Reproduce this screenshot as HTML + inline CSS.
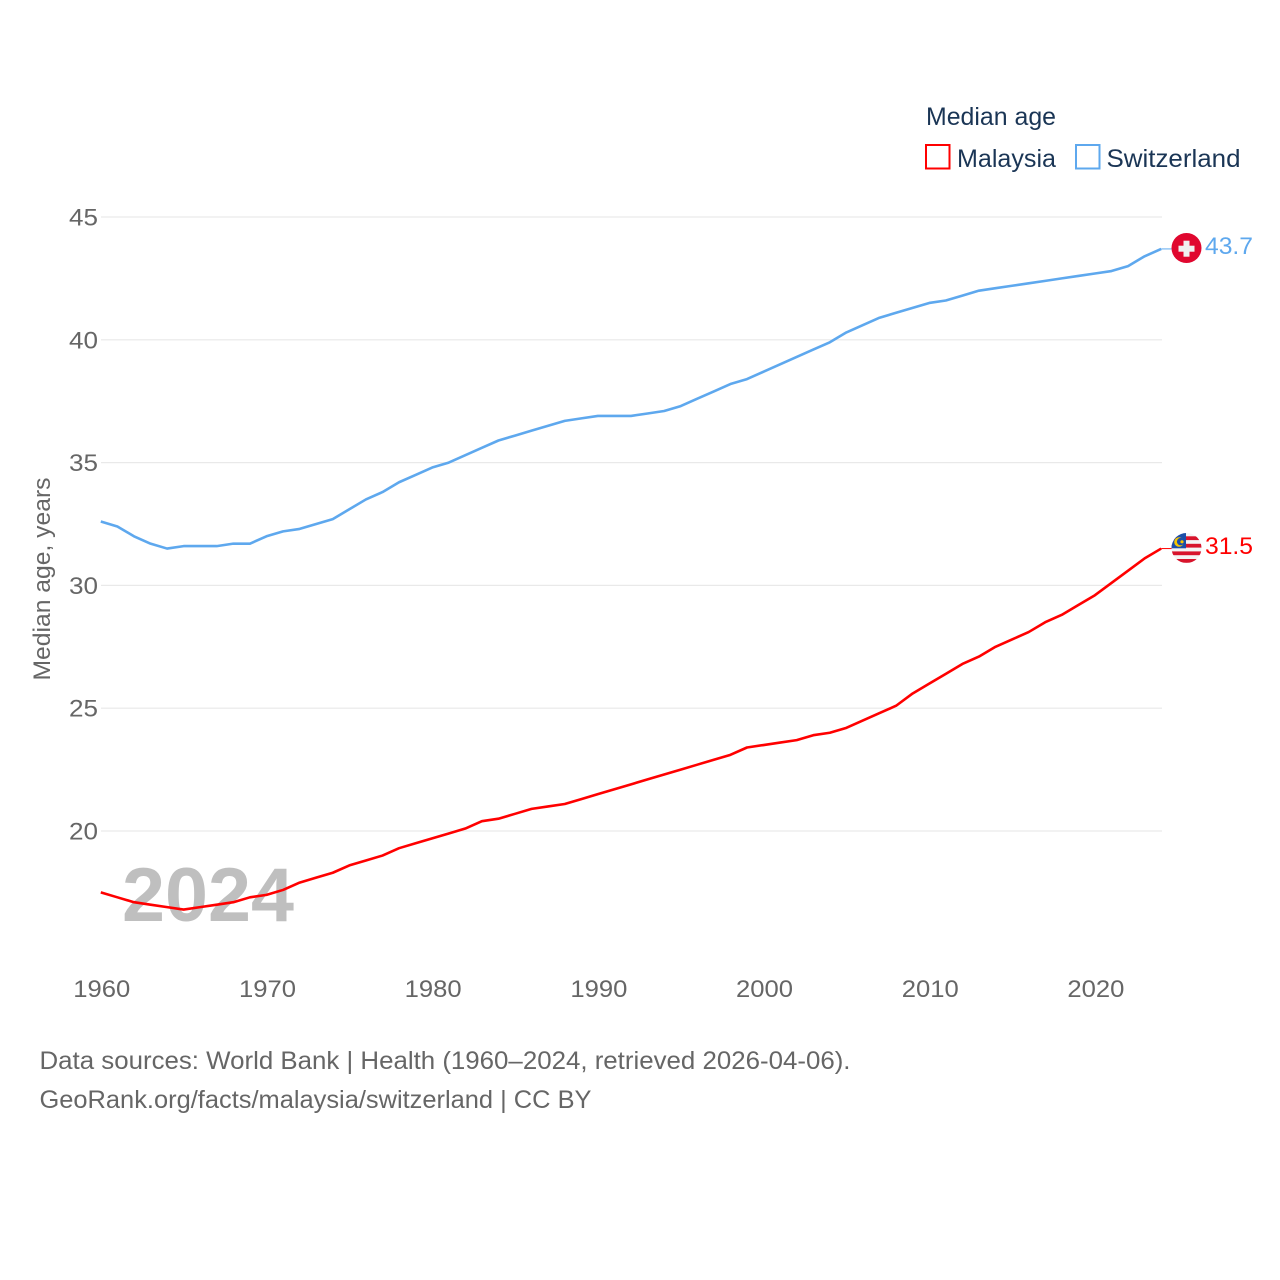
<!DOCTYPE html>
<html lang="en">
<head>
<meta charset="utf-8">
<title>Median age: Malaysia and Switzerland</title>
<style>
html,body{margin:0;padding:0;background:#fff;}
svg{display:block;font-family:"Liberation Sans",sans-serif;}
</style>
</head>
<body>
<svg id="chart" xmlns="http://www.w3.org/2000/svg" width="1280" height="1280" viewBox="0 0 1280 1280">
  <defs>
    <clipPath id="my-clip"><circle cx="1186.5" cy="548" r="15"/></clipPath>
  </defs>
  <rect x="0" y="0" width="1280" height="1280" fill="#fff"/>

  <g id="grid"></g>
  <g id="ytick-labels"></g>
  <g id="xtick-labels"></g>

  <text transform="translate(50,579) rotate(-90)" text-anchor="middle" font-size="24" fill="#666" textLength="203" lengthAdjust="spacingAndGlyphs">Median age, years</text>

  <text x="122" y="921" font-size="76" font-weight="700" fill="#bfbfbf" textLength="172" lengthAdjust="spacingAndGlyphs">2024</text>

  <g id="series"></g>

  <g>
    <circle cx="1186.5" cy="248" r="15" fill="#e0072f"/>
    <rect x="1183.5" y="240.7" width="6" height="16" fill="#f0f0f0"/>
    <rect x="1178.5" y="245.7" width="16" height="6" fill="#f0f0f0"/>
  </g>
  <g clip-path="url(#my-clip)">
    <rect x="1171" y="533" width="31" height="31" fill="#f4f4f4"/>
    <rect x="1171" y="536.3" width="31" height="3.8" fill="#d8142c"/>
    <rect x="1171" y="543.8" width="31" height="3.8" fill="#d8142c"/>
    <rect x="1171" y="551.4" width="31" height="3.8" fill="#d8142c"/>
    <rect x="1171" y="559" width="31" height="3.8" fill="#d8142c"/>
    <rect x="1171" y="533" width="15" height="15.3" fill="#1c4fa8"/>
    <circle cx="1179" cy="542" r="4.8" fill="#f7c600"/>
    <circle cx="1180.6" cy="541.6" r="3.7" fill="#1c4fa8"/>
    <circle cx="1182" cy="541.8" r="1.6" fill="#f7c600"/>
  </g>

  <text x="1205" y="254" font-size="24" fill="#5ea8ee" textLength="48" lengthAdjust="spacingAndGlyphs">43.7</text>
  <text x="1205" y="554" font-size="24" fill="#ff0000" textLength="48" lengthAdjust="spacingAndGlyphs">31.5</text>

  <g>
    <text x="926" y="125" font-size="25" fill="#1a3555" textLength="130" lengthAdjust="spacingAndGlyphs">Median age</text>
    <g>
      <rect x="926" y="145" width="23.5" height="23.5" fill="#fff" stroke="#ff0000" stroke-width="2"/>
      <text x="957" y="167" font-size="25" fill="#1a3555" textLength="99" lengthAdjust="spacingAndGlyphs">Malaysia</text>
    </g>
    <g>
      <rect x="1076" y="145" width="23.5" height="23.5" fill="#fff" stroke="#5ea8ee" stroke-width="2"/>
      <text x="1106.5" y="167" font-size="25" fill="#1a3555" textLength="134" lengthAdjust="spacingAndGlyphs">Switzerland</text>
    </g>
  </g>

  <g>
    <text x="39.5" y="1069" font-size="25" fill="#666" textLength="811" lengthAdjust="spacingAndGlyphs">Data sources: World Bank | Health (1960–2024, retrieved 2026-04-06).</text>
    <text x="39.5" y="1108" font-size="25" fill="#666" textLength="552" lengthAdjust="spacingAndGlyphs">GeoRank.org/facts/malaysia/switzerland | CC BY</text>
  </g>
</svg>
<script>
const startYear = 1960;
const xTickLabels = [1960, 1970, 1980, 1990, 2000, 2010, 2020];
const yTickLabels = [20, 25, 30, 35, 40, 45];
const malaysia = [17.5,17.3,17.1,17.0,16.9,16.8,16.9,17.0,17.1,17.3,17.4,17.6,17.9,18.1,18.3,18.6,18.8,19.0,19.3,19.5,19.7,19.9,20.1,20.4,20.5,20.7,20.9,21.0,21.1,21.3,21.5,21.7,21.9,22.1,22.3,22.5,22.7,22.9,23.1,23.4,23.5,23.6,23.7,23.9,24.0,24.2,24.5,24.8,25.1,25.6,26.0,26.4,26.8,27.1,27.5,27.8,28.1,28.5,28.8,29.2,29.6,30.1,30.6,31.1,31.5];
const switzerland = [32.6,32.4,32.0,31.7,31.5,31.6,31.6,31.6,31.7,31.7,32.0,32.2,32.3,32.5,32.7,33.1,33.5,33.8,34.2,34.5,34.8,35.0,35.3,35.6,35.9,36.1,36.3,36.5,36.7,36.8,36.9,36.9,36.9,37.0,37.1,37.3,37.6,37.9,38.2,38.4,38.7,39.0,39.3,39.6,39.9,40.3,40.6,40.9,41.1,41.3,41.5,41.6,41.8,42.0,42.1,42.2,42.3,42.4,42.5,42.6,42.7,42.8,43.0,43.4,43.7];

const NS = 'http://www.w3.org/2000/svg';
function xScale(year) { return 100.8 + (year - 1960) * (1161.2 - 100.8) / 64; }
function yScale(v) { return 831 - (v - 20) * (831 - 217) / 25; }
function make(tag, attrs, parent) {
  const el = document.createElementNS(NS, tag);
  for (const k in attrs) el.setAttribute(k, attrs[k]);
  parent.appendChild(el);
  return el;
}
const grid = document.getElementById('grid');
const yLabels = document.getElementById('ytick-labels');
const xLabels = document.getElementById('xtick-labels');
const series = document.getElementById('series');

yTickLabels.forEach(function (v) {
  const line = make('line', {x1: 101, x2: 1162, y1: yScale(v), y2: yScale(v), stroke: '#e9e9e9', 'stroke-width': 1.2}, grid);
  
  
  const t = make('text', {x: 98, y: yScale(v) + 8.5, 'text-anchor': 'end', 'font-size': 24, fill: '#666', textLength: 29, lengthAdjust: 'spacingAndGlyphs'}, yLabels);
  
  
  t.textContent = v;
});

xTickLabels.forEach(function (y) {
  const t = make('text', {x: xScale(y) + 1, y: 997, 'text-anchor': 'middle', 'font-size': 24, fill: '#666', textLength: 57, lengthAdjust: 'spacingAndGlyphs'}, xLabels);
  
  
  t.textContent = y;
});

function drawSeries(values, color, key) {
  const pts = values.map(function (v, i) { return xScale(startYear + i).toFixed(2) + ',' + yScale(v).toFixed(2); });
  const line = make('polyline', {points: pts.join(' '), fill: 'none', stroke: color, 'stroke-width': 2.6, 'stroke-linejoin': 'round'}, series);
  
  
  const lastY = yScale(values[values.length - 1]);
  const conn = make('line', {x1: xScale(startYear + values.length - 1), x2: 1172, y1: lastY, y2: lastY, stroke: color, 'stroke-width': 1}, series);
  
  
}
drawSeries(switzerland, '#5ea8ee', 'switzerland');
drawSeries(malaysia, '#ff0000', 'malaysia');
</script>
</body>
</html>
